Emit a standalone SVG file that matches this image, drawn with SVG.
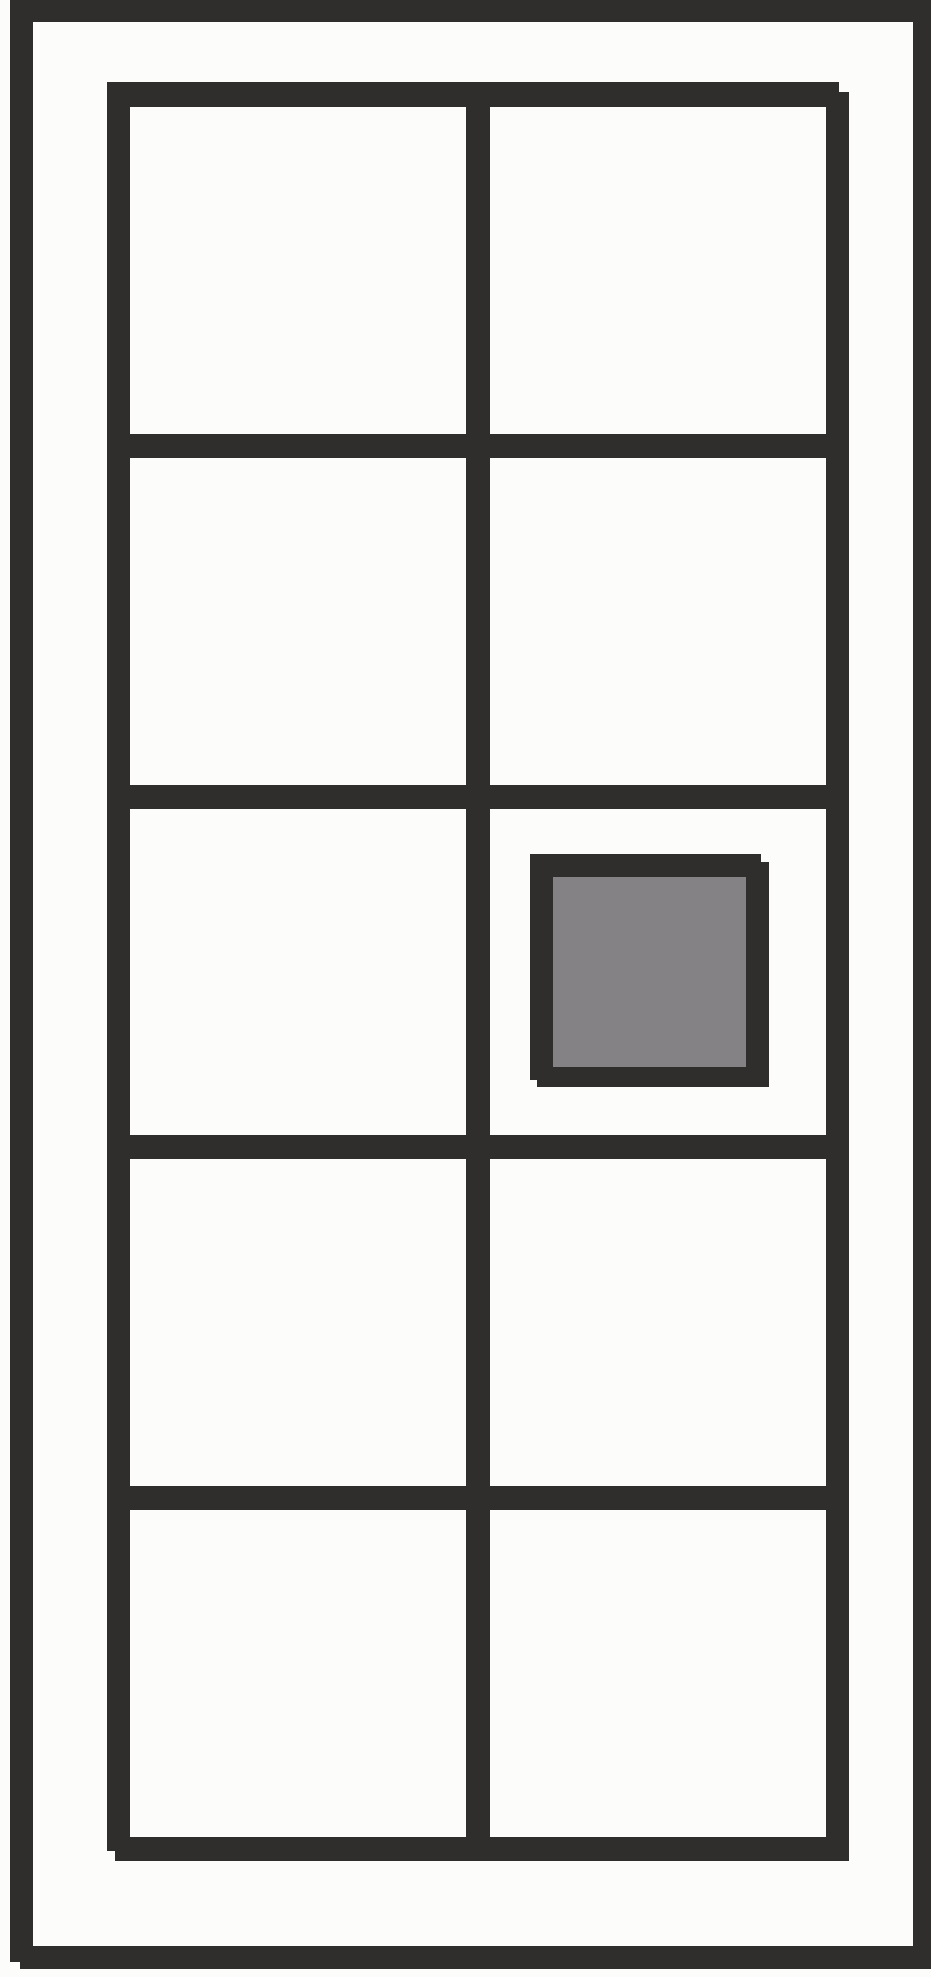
<svg xmlns="http://www.w3.org/2000/svg" width="931" height="1977" viewBox="0 0 931 1977">
<style>
.ink{fill:#2f2e2d;fill-rule:evenodd}
.line{fill:#2f2e2d}
</style>
<rect x="0" y="0" width="931" height="1977" fill="#fcfdfb"/>
<g id="frame">
<path class="ink" d="M10,-2 H940 V1969 H20 V1962 H10 Z M33,22 V1946 H913 V22 Z"/>
</g>
<g id="grid">
<path class="ink" d="M107,82 H839 V92 H849 V1861 H115 V1851 H107 Z M130,107 V1837 H826 V107 Z"/>
<rect class="line" x="466" y="100" width="24" height="1745"/>
<rect class="line" x="125" y="434" width="706" height="24"/>
<rect class="line" x="125" y="785" width="706" height="24"/>
<rect class="line" x="125" y="1135" width="706" height="24"/>
<rect class="line" x="125" y="1486" width="706" height="24"/>
</g>
<g id="square">
<path fill="#848285" d="M550,874 H750 V1070 H550 Z"/>
<path class="ink" d="M530,854 H761 V862 H769 V1087 H537 V1080 H530 Z M553,877 V1067 H746 V877 Z"/>
</g>
</svg>
